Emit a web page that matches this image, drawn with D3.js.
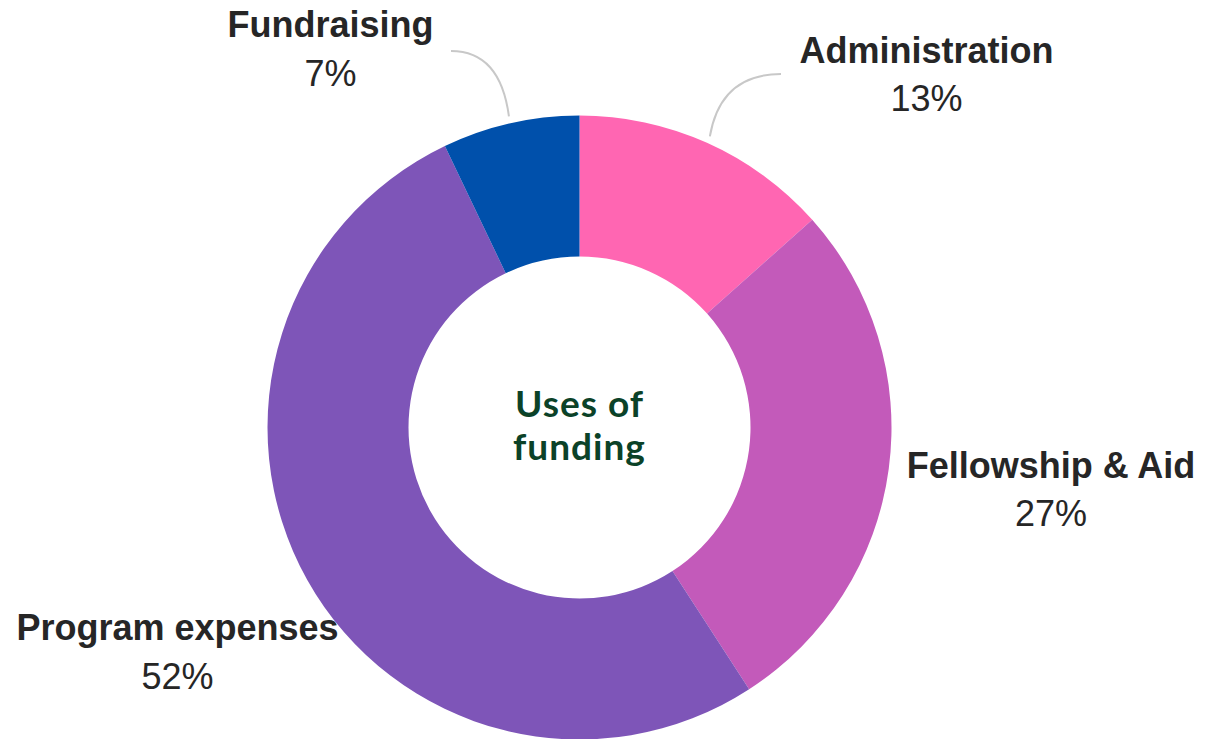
<!DOCTYPE html>
<html>
<head>
<meta charset="utf-8">
<script src="https://cdn.jsdelivr.net/npm/d3@7"></script>
<style>
  html, body { margin: 0; padding: 0; background: #fff; }
  svg { display: block; }
</style>
</head>
<body>
<svg id="chart"></svg>
<script>
// Data
const categories = ["Administration", "Fellowship & Aid", "Program expenses", "Fundraising"];
const shares = [13.4, 27.45, 52.05, 7.1];
const shareLabels = ["13%", "27%", "52%", "7%"];
const sliceColors = ["#FF66B2", "#C35ABA", "#7E55B8", "#0050AB"];

let width = 1214,
    height = 739,
    svg = d3.select("#chart").attr("width", width).attr("height", height);

const cx = 579.5, cy = 427.5;
const outerR = 312, innerR = 171;

const pie = d3.pie().sort(null).value(d => d);
const arcs = pie(shares);
const arc = d3.arc().innerRadius(innerR).outerRadius(outerR);

const g = svg.append("g").attr("transform", `translate(${cx},${cy})`);

g.selectAll("path.slice")
    .data(arcs)
    .enter()
    .append("path")
    .attr("class", "slice")
    .attr("d", arc)
    .attr("fill", (d, i) => sliceColors[i]);

// label placement (layout, relative to chart)
const labelPos = [
    {x: 926.5, y: 62.5, lead: [781, 74]},
    {x: 1051, y: 477.5},
    {x: 177.5, y: 640},
    {x: 330.5, y: 37, lead: [451, 51]}
];

// leader lines for the small top slices
const leadArc = d3.arc().innerRadius(319).outerRadius(319);
arcs.forEach((a, i) => {
    const lp = labelPos[i];
    if (!lp.lead) return;
    const c = leadArc.centroid(a);
    const ex = cx + c[0], ey = cy + c[1];
    const sx = lp.lead[0], sy = lp.lead[1];
    // control point: horizontal from start, vertical above end
    const ctrl = [ex + (sx - ex) * 0.15, sy];
    svg.append("path")
        .attr("d", `M${sx},${sy} Q${ctrl[0]},${ctrl[1]} ${ex},${ey}`)
        .attr("fill", "none")
        .attr("stroke", "#C8C8C8")
        .attr("stroke-width", 2);
});

const labels = svg.selectAll("g.lbl")
    .data(arcs)
    .enter()
    .append("g")
    .attr("class", "lbl");

labels.append("text")
    .attr("x", (d, i) => labelPos[i].x)
    .attr("y", (d, i) => labelPos[i].y)
    .attr("text-anchor", "middle")
    .style("font-family", "'Liberation Sans', Arial, sans-serif")
    .style("font-weight", "bold")
    .style("font-size", "36px")
    .attr("fill", "#262626")
    .text((d, i) => categories[i]);

labels.append("text")
    .attr("x", (d, i) => labelPos[i].x)
    .attr("y", (d, i) => labelPos[i].y + 48.5)
    .attr("text-anchor", "middle")
    .style("font-family", "'Liberation Sans', Arial, sans-serif")
    .style("font-size", "36px")
    .attr("fill", "#262626")
    .text((d, i) => shareLabels[i]);

// center title
const title = svg.append("text")
    .attr("text-anchor", "middle")
    .style("font-family", "Lato, 'Open Sans', sans-serif")
    .style("font-weight", "bold")
    .style("font-size", "37px")
    .style("letter-spacing", "1px")
    .attr("fill", "#0B4228");
title.append("tspan").attr("x", cx).attr("y", 417).text("Uses of");
title.append("tspan").attr("x", cx).attr("y", 460).text("funding");
</script>
</body>
</html>
